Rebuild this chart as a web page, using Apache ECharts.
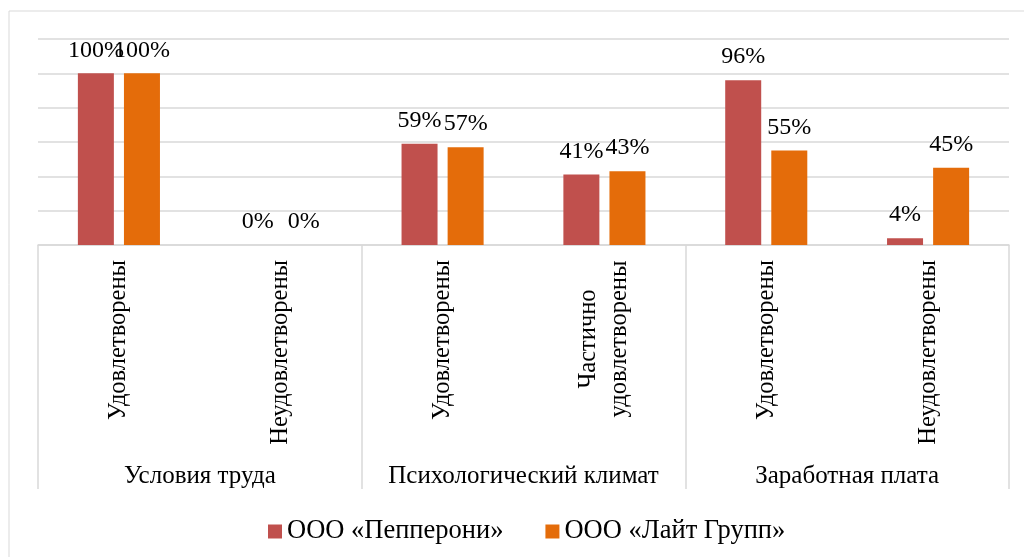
<!DOCTYPE html>
<html>
<head>
<meta charset="utf-8">
<script src="https://cdn.jsdelivr.net/npm/echarts@6/dist/echarts.min.js"></script>
<style>
  html, body { margin: 0; padding: 0; background: #fff; }
  #chart { width: 1024px; height: 557px; }
</style>
</head>
<body>
<div id="chart"></div>
<script>
// answer categories (lower level) and their groups (upper level)
const answers = ['Удовлетворены', 'Неудовлетворены', 'Удовлетворены', 'Частично\nудовлетворены', 'Удовлетворены', 'Неудовлетворены'];
const groups = ['Условия труда', 'Психологический климат', 'Заработная плата'];
const seriesNames = ['ООО «Пепперони»', 'ООО «Лайт Групп»'];
const pepperoni = [100, 0, 59, 41, 96, 4];
const laitGroup = [100, 0, 57, 43, 55, 45];
const colors = ['#c0504d', '#e46c0a'];

const font = 'Liberation Serif';
const myChart = echarts.init(document.getElementById('chart'));

function barSeries(name, data, color) {
  return {
    name: name,
    type: 'bar',
    data: data,
    barWidth: 36,
    barGap: '28%',
    itemStyle: { color: color },
    label: {
      show: true,
      position: 'top',
      distance: 11,
      formatter: '{c}%',
      fontFamily: font,
      fontSize: 24,
      color: '#000'
    }
  };
}

const option = {
  animation: false,
  graphic: [{
    type: 'rect',
    shape: { x: 9, y: 11, width: 1040, height: 570 },
    style: { fill: 'none', stroke: '#d9d9d9', lineWidth: 1 },
    silent: true
  }],
  legend: {
    data: seriesNames,
    left: 263,
    top: 513,
    itemWidth: 14,
    itemHeight: 14,
    itemGap: 42,
    icon: 'rect',
    textStyle: { fontFamily: font, fontSize: 26.5, color: '#000' }
  },
  grid: { left: 38, right: 15, top: 39, bottom: 312 },
  xAxis: [{
    type: 'category',
    data: answers,
    axisLine: { lineStyle: { color: '#d9d9d9', width: 1.5 } },
    axisTick: { show: false },
    axisLabel: {
      interval: 0,
      rotate: 90,
      margin: 15,
      fontFamily: font,
      fontSize: 24.5,
      color: '#000',
      formatter: function (v) {
        if (v.indexOf('\n') < 0) return v;
        return v.split('\n').map(function (s) { return '{c|' + s + '}'; }).join('\n');
      },
      rich: {
        c: { width: 158, align: 'center', fontFamily: font, fontSize: 24.5, lineHeight: 31, color: '#000' }
      }
    }
  }, {
    type: 'category',
    position: 'bottom',
    data: groups,
    axisLine: { show: false },
    axisTick: { show: true, inside: false, length: 244, lineStyle: { color: '#d9d9d9', width: 1.5 } },
    axisLabel: {
      interval: 0,
      margin: 219,
      fontFamily: font,
      fontSize: 25,
      color: '#000'
    }
  }],
  yAxis: {
    type: 'value',
    min: 0,
    max: 120,
    interval: 20,
    axisLabel: { show: false },
    axisLine: { show: false },
    axisTick: { show: false },
    splitLine: { lineStyle: { color: '#d9d9d9', width: 1.5 } }
  },
  series: [
    barSeries(seriesNames[0], pepperoni, colors[0]),
    barSeries(seriesNames[1], laitGroup, colors[1])
  ]
};

myChart.setOption(option);
</script>
</body>
</html>
